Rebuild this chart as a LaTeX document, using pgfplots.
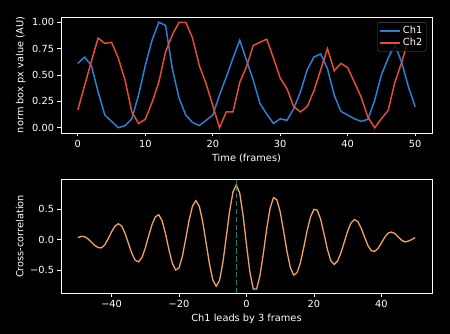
\documentclass[border=0pt]{standalone}
\usepackage{fontspec}
\setmainfont{DejaVu Sans}
\usepackage{pgfplots}
\pgfplotsset{compat=1.18}
\definecolor{chone}{RGB}{45,127,212}
\definecolor{chtwo}{RGB}{226,76,56}
\definecolor{xc}{RGB}{240,162,100}
\definecolor{vl}{RGB}{38,120,105}
\pgfplotstableread{
t ch1 ch2
0 0.61 0.17
1 0.67 0.40
2 0.59 0.63
3 0.34 0.85
4 0.12 0.80
5 0.06 0.81
6 0.00 0.66
7 0.02 0.45
8 0.085 0.15
9 0.31 0.04
10 0.59 0.08
11 0.83 0.24
12 1.00 0.43
13 0.97 0.72
14 0.56 0.88
15 0.28 1.00
16 0.12 1.00
17 0.05 0.85
18 0.02 0.59
19 0.07 0.42
20 0.12 0.21
21 0.31 0.00
22 0.48 0.15
23 0.66 0.15
24 0.83 0.43
25 0.64 0.58
26 0.45 0.78
27 0.23 0.81
28 0.13 0.84
29 0.04 0.66
30 0.085 0.47
31 0.07 0.37
32 0.18 0.20
33 0.34 0.15
34 0.55 0.20
35 0.67 0.35
36 0.70 0.55
37 0.56 0.75
38 0.31 0.54
39 0.155 0.61
40 0.12 0.57
41 0.085 0.43
42 0.06 0.29
43 0.08 0.10
44 0.26 0.00
45 0.50 0.085
46 0.66 0.165
47 0.79 0.43
48 0.62 0.62
49 0.39 0.83
50 0.20 0.97
}\chtab
\pgfplotstableread{
lag xc
-50 0.030
-49 0.053
-48 0.047
-47 0.011
-46 -0.042
-45 -0.096
-44 -0.132
-43 -0.137
-42 -0.086
-41 0.014
-40 0.128
-39 0.220
-38 0.260
-37 0.222
-36 0.100
-35 -0.064
-34 -0.227
-33 -0.340
-32 -0.368
-31 -0.296
-30 -0.139
-29 0.061
-28 0.249
-27 0.376
-26 0.407
-25 0.306
-24 0.092
-23 -0.167
-22 -0.389
-21 -0.503
-20 -0.467
-19 -0.275
-18 0.018
-17 0.324
-16 0.555
-15 0.640
-14 0.548
-13 0.298
-12 -0.047
-11 -0.396
-10 -0.661
-9 -0.769
-8 -0.676
-7 -0.378
-6 0.043
-5 0.469
-4 0.784
-3 0.900
-2 0.762
-1 0.394
0 -0.088
1 -0.532
2 -0.815
3 -0.815
4 -0.591
5 -0.229
6 0.180
7 0.515
8 0.690
9 0.655
10 0.454
11 0.140
12 -0.196
13 -0.462
14 -0.587
15 -0.545
16 -0.377
17 -0.123
18 0.151
19 0.376
20 0.498
21 0.483
22 0.331
23 0.089
24 -0.164
25 -0.350
26 -0.410
27 -0.354
28 -0.220
29 -0.040
30 0.139
31 0.274
32 0.330
33 0.296
34 0.189
35 0.042
36 -0.097
37 -0.185
38 -0.195
39 -0.145
40 -0.057
41 0.038
42 0.106
43 0.124
44 0.097
45 0.042
46 -0.012
47 -0.039
48 -0.025
49 0.000
50 0.030
}\xctab
\pgfplotsset{
  darkax/.style={
    scale only axis,
    /pgf/number format/assume math mode=true,
    axis background/.style={fill=black},
    axis line style={white, line width=0.8bp},
    tick style={white, line width=0.8bp},
    major tick length=3.5bp,
    tick align=outside,
    xtick pos=bottom, ytick pos=left,
    ticklabel style={text=white, font=\fontsize{9.8bp}{11bp}\selectfont},
    label style={text=white, font=\fontsize{9.8bp}{11bp}\selectfont},
    minor tick num=0,
  }
}
\begin{document}
\fontsize{9.8bp}{11.8bp}\selectfont
\begin{tikzpicture}
\fill[black] (0bp,0bp) rectangle (450bp,334bp);
\begin{axis}[darkax,
  at={(61bp,201bp)}, anchor=south west,
  width=371bp, height=116bp,
  xmin=-2.5, xmax=52.5, ymin=-0.05, ymax=1.05,
  xtick={0,10,20,30,40,50},
  xticklabels={0,10,20,30,40,50},
  ytick={0,0.25,0.5,0.75,1},
  yticklabels={0.00,0.25,0.50,0.75,1.00},
  xlabel={Time (frames)},
  ylabel={norm box px value (AU)},
  legend cell align=left,
  legend style={at={(0.985,0.955)}, anchor=north east,
    fill=black, fill opacity=0.8, text opacity=1, draw opacity=1,
    draw=white!35!black, text=white, rounded corners=2bp,
    font=\fontsize{9.8bp}{11bp}\selectfont, inner sep=2bp, row sep=-1bp},
  legend image code/.code={\draw[#1] (0bp,0bp) -- (20bp,0bp);},
]
\addplot[chone, line width=1.5bp] table[x=t, y=ch1] {\chtab};
\addlegendentry{Ch1}
\addplot[chtwo, line width=1.5bp] table[x=t, y=ch2] {\chtab};
\addlegendentry{Ch2}
\end{axis}
\begin{axis}[darkax,
  at={(61bp,40.7bp)}, anchor=south west,
  width=371bp, height=113.6bp,
  xmin=-55, xmax=55, ymin=-0.885, ymax=0.985,
  xtick={-40,-20,0,20,40},
  xticklabels={−40,−20,0,20,40},
  ytick={-0.5,0,0.5},
  yticklabels={−0.5,0.0,0.5},
  xlabel={Ch1 leads by 3 frames},
  ylabel={Cross-correlation},
]
\addplot[xc, line width=1.3bp] table[x=lag, y=xc] {\xctab};
\addplot[vl, line width=1.5bp, dash pattern=on 5.5bp off 2.4bp] coordinates {(-3,-0.885) (-3,0.985)};
\end{axis}
\end{tikzpicture}
\end{document}
